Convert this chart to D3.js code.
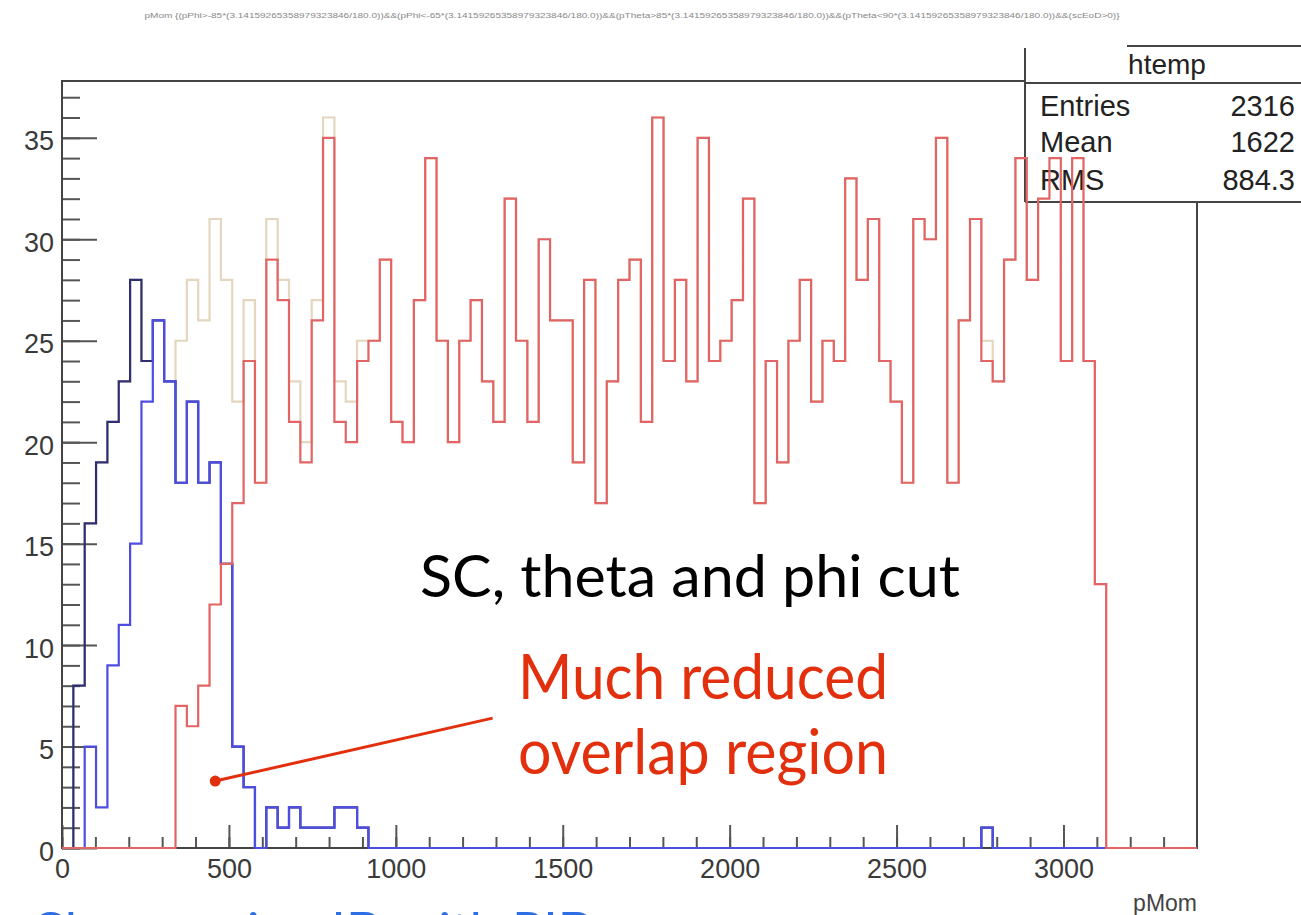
<!DOCTYPE html>
<html>
<head>
<meta charset="utf-8">
<script src="https://cdn.jsdelivr.net/npm/d3@7"></script>
<style>
  html, body { margin: 0; padding: 0; background: #fff; }
  svg { display: block; }
</style>
</head>
<body>
<svg id="chart" width="1301" height="915"></svg>
<script>
// ---- histogram binning (pMom) ----
const binLow = 0;
const binHigh = 3400;
const binCount = 100;

// total sample (htemp), bins 1..91
const totalFirstBin = 1;
const totalCounts = [
  8, 16, 19, 21, 23, 28, 24, 26, 23, 25,
  28, 26, 31, 28, 22, 27, 18, 31, 28, 23,
  20, 27, 36, 23, 22, 25, 25, 29, 21, 20,
  27, 34, 25, 20, 25, 27, 23, 21, 32, 25,
  21, 30, 26, 26, 19, 28, 17, 23, 28, 29,
  21, 36, 24, 28, 23, 35, 24, 25, 27, 32,
  17, 24, 19, 25, 28, 22, 25, 24, 33, 28,
  31, 24, 22, 18, 31, 30, 35, 18, 26, 31,
  25, 23, 29, 34, 28, 32, 34, 24, 34, 24,
  13
];

// light particles, bins 1..26 and bin 81
const lightFirstBin = 1;
const lightCounts = [8, 16, 19, 21, 23, 28, 24, 26, 23, 18, 22, 18, 19, 14, 5, 3, 0, 2, 1, 2, 1, 1, 1, 2, 2, 1];
const lightLateBin = 81;
const lightLateCounts = [1];

// pions, bins 2..26 and bin 81
const pionFirstBin = 2;
const pionCounts = [5, 2, 9, 11, 15, 22, 26, 23, 18, 22, 18, 19, 14, 5, 3, 0, 2, 1, 2, 1, 1, 1, 2, 2, 1];
const pionLateBin = 81;
const pionLateCounts = [1];

// protons, bins 10..91
const protonFirstBin = 10;
const protonCounts = [
  7, 6, 8, 12, 14, 17, 24, 18, 29, 27,
  21, 19, 26, 35, 21, 20, 24, 25, 29, 21,
  20, 27, 34, 25, 20, 25, 27, 23, 21, 32,
  25, 21, 30, 26, 26, 19, 28, 17, 23, 28,
  29, 21, 36, 24, 28, 23, 35, 24, 25, 27,
  32, 17, 24, 19, 25, 28, 22, 25, 24, 33,
  28, 31, 24, 22, 18, 31, 30, 35, 18, 26,
  31, 24, 23, 29, 34, 28, 32, 34, 24, 34,
  24, 13
];

// axis ticks
const xMajorTicks = [0, 500, 1000, 1500, 2000, 2500, 3000];
const yMajorTicks = [0, 5, 10, 15, 20, 25, 30, 35];
const yTop = 37.8;

// stats box
const statsTitle = "htemp";
const statNames = ["Entries", "Mean", "RMS"];
const statValues = ["2316", "1622", "884.3"];

const plotTitle = "pMom {(pPhi>-85*(3.14159265358979323846/180.0))&&(pPhi<-65*(3.14159265358979323846/180.0))&&(pTheta>85*(3.14159265358979323846/180.0))&&(pTheta<90*(3.14159265358979323846/180.0))&&(scEoD>0)}";
const xTitle = "pMom";
const cutLabel = "SC, theta and phi cut";
const noteLines = ["Much reduced", "overlap region"];
const footerText = "Cleaner pion ID with PID";

// ---- layout ----
const svg = d3.select("#chart");
const frame = { left: 62, right: 1197, top: 81, bottom: 848 };
const axisFont = "'Liberation Sans', Arial, Helvetica, sans-serif";
const noteFont = "Lato, 'Open Sans', sans-serif";

const x = d3.scaleLinear().domain([binLow, binHigh]).range([frame.left, frame.right]);
const y = d3.scaleLinear().domain([0, yTop]).range([frame.bottom, frame.top]);
const binWidth = (binHigh - binLow) / binCount;

// place sparse bin contents into a full array of bins
function fillBins(...segments) {
  const bins = new Array(binCount).fill(0);
  segments.forEach(([first, counts]) => counts.forEach((c, i) => { bins[first + i] = c; }));
  return bins;
}

// outline path of a histogram, ROOT style (steps, zero bins along the axis)
const stepLine = d3.line().x(d => x(d[0])).y(d => y(d[1]));
function histPath(bins) {
  const pts = [[binLow, 0]];
  bins.forEach((c, i) => {
    const x0 = binLow + i * binWidth;
    pts.push([x0, c], [x0 + binWidth, c]);
  });
  pts.push([binHigh, 0]);
  return stepLine(pts);
}

function drawHist(bins, color) {
  svg.append("path")
    .attr("d", histPath(bins))
    .attr("fill", "none")
    .attr("stroke", color)
    .attr("stroke-width", 2.2)
    .attr("stroke-linejoin", "miter");
}

// title
svg.append("text")
  .attr("x", 632).attr("y", 18)
  .attr("text-anchor", "middle")
  .attr("font-family", axisFont)
  .attr("font-size", 8)
  .attr("fill", "#888")
  .attr("textLength", 975)
  .attr("lengthAdjust", "spacingAndGlyphs")
  .text(plotTitle);

// total histogram (drawn first, beneath everything)
drawHist(fillBins([totalFirstBin, totalCounts]), "#e4d6bf");

// axes
const yMinor = d3.range(0, 38, 1);
const gyMinor = svg.append("g").attr("transform", `translate(${frame.left},0)`)
  .call(d3.axisLeft(y).tickValues(yMinor).tickSize(-18).tickFormat(""));
const gy = svg.append("g").attr("transform", `translate(${frame.left},0)`)
  .call(d3.axisLeft(y).tickValues(yMajorTicks).tickSize(-35).tickPadding(8).tickFormat(d3.format("d")));
const xMinor = d3.range(0, 3400, 100);
const gxMinor = svg.append("g").attr("transform", `translate(0,${frame.bottom})`)
  .call(d3.axisBottom(x).tickValues(xMinor).tickSize(-11).tickFormat(""));
const gx = svg.append("g").attr("transform", `translate(0,${frame.bottom})`)
  .call(d3.axisBottom(x).tickValues(xMajorTicks).tickSize(-23).tickPadding(11).tickFormat(d3.format("d")));

[gyMinor, gy, gxMinor, gx].forEach(g => {
  g.select(".domain").remove();
  g.selectAll("line").attr("stroke", "#555").attr("stroke-width", 2);
  g.selectAll("text")
    .attr("font-family", axisFont)
    .attr("font-size", 27)
    .attr("fill", "#3a3a3a");
});
gy.selectAll("text").attr("dy", "0.45em");

// frame
svg.append("rect")
  .attr("x", frame.left).attr("y", frame.top)
  .attr("width", frame.right - frame.left).attr("height", frame.bottom - frame.top)
  .attr("fill", "none").attr("stroke", "#444").attr("stroke-width", 2);

// x axis title
svg.append("text")
  .attr("x", frame.right).attr("y", 911)
  .attr("text-anchor", "end")
  .attr("font-family", axisFont).attr("font-size", 23).attr("fill", "#444")
  .text(xTitle);

// stats box
const box = { left: 1025, top: 46, sep: 83, bottom: 202, right: 1302 };
svg.append("rect")
  .attr("x", box.left).attr("y", box.top + 2)
  .attr("width", box.right - box.left).attr("height", box.bottom - box.top - 2)
  .attr("fill", "#fff");
const boxLines = [
  [box.left, box.top + 2, box.left, box.bottom],
  [box.left, box.sep, box.right, box.sep],
  [box.left, box.bottom, box.right, box.bottom],
  [1127, box.top, box.right, box.top]
];
svg.append("g").selectAll("line").data(boxLines).join("line")
  .attr("x1", d => d[0]).attr("y1", d => d[1])
  .attr("x2", d => d[2]).attr("y2", d => d[3])
  .attr("stroke", "#444").attr("stroke-width", 2);
svg.append("text")
  .attr("x", 1167).attr("y", 74)
  .attr("text-anchor", "middle")
  .attr("font-family", axisFont).attr("font-size", 28).attr("fill", "#222")
  .text(statsTitle);
const statRows = [116, 152, 190];
statNames.forEach((name, i) => {
  svg.append("text")
    .attr("x", 1040).attr("y", statRows[i])
    .attr("font-family", axisFont).attr("font-size", 29).attr("fill", "#222")
    .text(name);
  svg.append("text")
    .attr("x", 1295).attr("y", statRows[i])
    .attr("text-anchor", "end")
    .attr("font-family", axisFont).attr("font-size", 29).attr("fill", "#222")
    .text(statValues[i]);
});

// component histograms
drawHist(fillBins([lightFirstBin, lightCounts], [lightLateBin, lightLateCounts]), "#2e2e72");
drawHist(fillBins([pionFirstBin, pionCounts], [pionLateBin, pionLateCounts]), "#4d4de2");
drawHist(fillBins([protonFirstBin, protonCounts]), "#e26464");

// annotations
svg.append("text")
  .attr("x", 420).attr("y", 597)
  .attr("font-family", noteFont).attr("font-size", 58).attr("fill", "#000")
  .attr("textLength", 540).attr("lengthAdjust", "spacingAndGlyphs")
  .text(cutLabel);

const noteColor = "#e2300e";
noteLines.forEach((line, i) => {
  svg.append("text")
    .attr("x", 518).attr("y", 699 + i * 75)
    .attr("font-family", noteFont).attr("font-size", 62).attr("fill", noteColor)
    .attr("textLength", 370).attr("lengthAdjust", "spacingAndGlyphs")
    .text(line);
});

const pointerFrom = [459, 3.3];
const pointerTo = [1290, 6.4];
svg.append("line")
  .attr("x1", x(pointerFrom[0])).attr("y1", y(pointerFrom[1]))
  .attr("x2", x(pointerTo[0])).attr("y2", y(pointerTo[1]))
  .attr("stroke", noteColor).attr("stroke-width", 3);
svg.append("circle")
  .attr("cx", x(pointerFrom[0])).attr("cy", y(pointerFrom[1]))
  .attr("r", 5.5).attr("fill", noteColor);

// footer line, running off the bottom edge of the page
svg.append("text")
  .attr("x", 30).attr("y", 950)
  .attr("font-family", noteFont).attr("font-size", 52).attr("fill", "#2f6fe6")
  .text(footerText);
</script>
</body>
</html>
